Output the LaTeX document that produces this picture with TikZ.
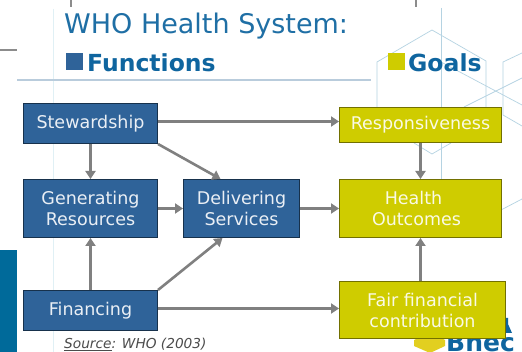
\documentclass[tikz,border=0pt]{standalone}
\usepackage{fontspec}
\setmainfont{DejaVu Sans}
\usetikzlibrary{arrows.meta}
\definecolor{boxblue}{HTML}{2F6399}
\definecolor{boxyel}{HTML}{CFCC00}
\definecolor{titleblue}{HTML}{1F6FA5}
\definecolor{headblue}{HTML}{0F659F}
\definecolor{teal}{HTML}{006A9A}
\definecolor{hexline}{HTML}{B5D3E2}
\definecolor{rulecol}{HTML}{B9CCDC}
\definecolor{palecol}{HTML}{E0F0F5}
\definecolor{logoyel}{HTML}{E2CF20}
\tikzset{
  fnbox/.style={draw=black!50!boxblue,line width=1pt,fill=boxblue,text=white!90!boxblue,align=center,inner sep=0pt,font=\fontsize{17.5}{21}\selectfont,anchor=north west},
  goalbox/.style={draw=black!45!boxyel,line width=1pt,fill=boxyel,text=white!90!boxyel,align=center,inner sep=0pt,font=\fontsize{17.5}{21}\selectfont,anchor=north west},
  conn/.style={draw=black!50,line width=2.6pt,-{Triangle[length=8pt,width=10pt]}},
  hexl/.style={draw=hexline,line width=0.7pt},
}
\begin{document}
\begin{tikzpicture}[x=1pt,y=-1pt]
\useasboundingbox (0,0) rectangle (522,352);
\fill[white] (0,0) rectangle (522,352);
% frame fragments
\draw[black!45,line width=1.2pt] (0,50) -- (17,50);
\draw[black!45,line width=1.5pt] (71,0) -- (71,7);
\draw[black!45,line width=1.5pt] (416,0) -- (416,7);
\draw[palecol,line width=1pt] (53,9) -- (53,352);
\fill[teal] (0,250) rectangle (17,352);
% background hexagons
\draw[hexl] (377,107) -- (377,62) -- (432,30) -- (486,61) -- (486,107);
\draw[hexl] (441,8) -- (441,179);
\draw[hexl] (441,62) -- (522,105);
\draw[hexl] (464,107) -- (522,78);
\draw[hexl] (522,53) -- (503,62) -- (503,115) -- (522,126);
\draw[hexl] (414,143) -- (432,154) -- (451,143);
\draw[hexl] (501,210) -- (522,199);
% logo
\fill[logoyel] (414,340) -- (430,332) -- (445,340) -- (445,346) -- (430,353) -- (414,346) -- cycle;
\node[anchor=base west,text=headblue,inner sep=0pt,font=\fontsize{25}{25}\selectfont\bfseries] (logo) at (446,351.5) {Bnec};
\fill[headblue] (505,318) -- (508,318) -- (508,324) -- (512,333) -- (505,333) -- cycle;
% headings
\node[anchor=base west,inner sep=0pt,text=titleblue,font=\fontsize{27}{27}\selectfont] (title) at (64,34) {WHO Health System:};
\draw[rulecol,line width=1.5pt] (17,80) -- (371,80);
\fill[boxblue] (66,53) rectangle (83,70);
\node[anchor=base west,inner sep=0pt,text=headblue,font=\fontsize{23.5}{24}\selectfont\bfseries] (fn) at (87,72) {Functions};
\fill[boxyel] (388,53) rectangle (405,70);
\node[anchor=base west,inner sep=0pt,text=headblue,font=\fontsize{23.5}{24}\selectfont\bfseries] (gl) at (408,72) {Goals};
% boxes
\node[fnbox,minimum width=134pt,minimum height=40pt] (st) at (23,103) {Stewardship};
\node[fnbox,minimum width=134pt,minimum height=58pt] (ge) at (23,179) {Generating\\Resources};
\node[fnbox,minimum width=134pt,minimum height=40pt] (fi) at (23,290) {Financing};
\node[fnbox,minimum width=116pt,minimum height=58pt] (de) at (183,179) {Delivering\\Services};
\node[goalbox,minimum width=162pt,minimum height=35pt] (re) at (339,107) {Responsiveness};
\node[goalbox,minimum width=162pt,minimum height=58pt] (he) at (339,179) {Health\hspace*{14pt}\\Outcomes\hspace*{8pt}};
\node[goalbox,minimum width=166pt,minimum height=57pt] (fa) at (339,281) {Fair financial\\contribution};
% connectors
\draw[conn] (st.south) -- (ge.north);
\draw[conn] (fi.north) -- (ge.south);
\draw[conn] (ge.east) -- (de.west);
\draw[conn] (de.east) -- (he.west);
\draw[conn] (st.south east) -- ([xshift=-21pt]de.north);
\draw[conn] (fi.north east) -- ([xshift=-19pt]de.south);
\draw[conn] ([yshift=2pt]st.east) -- ([yshift=2pt]st.east -| re.west);
\draw[conn] ([yshift=2pt]fi.east) -- ([yshift=2pt]fi.east -| fa.west);
\draw[conn] (re.south) -- (he.north);
\draw[conn] (he.south |- fa.north) -- (he.south);
% source
\node[anchor=base west,inner sep=0pt,text=black!70,font=\fontsize{13.7}{14}\selectfont\itshape] (src) at (64,349) {\underline{Source}: WHO (2003)};
\end{tikzpicture}
\end{document}
